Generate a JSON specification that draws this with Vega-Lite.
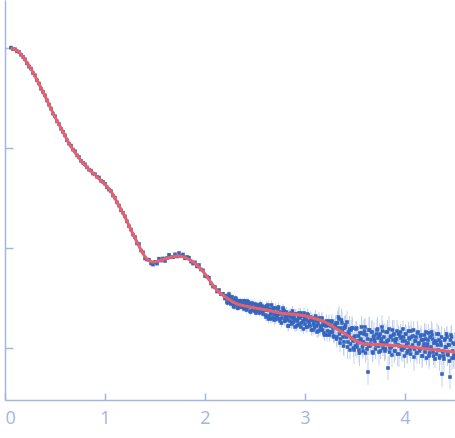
{
"$schema": "https://vega.github.io/schema/vega-lite/v6.json",
"width": 450, "height": 400,
"autosize": {"type": "none"},
"padding": {"left": 5, "top": 0, "right": 0, "bottom": 38},
"background": "white",
"config": {"view": {"stroke": null}},
"datasets": {
"pts": [
{"q":0.06,"y":3.004,"e":0.005},{"q":0.08,"y":2.989,"e":0.005},{"q":0.10,"y":2.988,"e":0.005},{"q":0.12,"y":2.967,"e":0.005},{"q":0.14,"y":2.96,"e":0.005},{"q":0.16,"y":2.932,"e":0.005},{"q":0.18,"y":2.912,"e":0.005},{"q":0.20,"y":2.887,"e":0.005},{"q":0.22,"y":2.846,"e":0.005},{"q":0.24,"y":2.813,"e":0.005},
{"q":0.26,"y":2.794,"e":0.005},{"q":0.28,"y":2.749,"e":0.005},{"q":0.30,"y":2.728,"e":0.005},{"q":0.32,"y":2.677,"e":0.005},{"q":0.34,"y":2.645,"e":0.005},{"q":0.36,"y":2.592,"e":0.005},{"q":0.38,"y":2.562,"e":0.005},{"q":0.40,"y":2.527,"e":0.005},{"q":0.42,"y":2.476,"e":0.005},{"q":0.44,"y":2.433,"e":0.005},
{"q":0.46,"y":2.394,"e":0.005},{"q":0.48,"y":2.344,"e":0.005},{"q":0.50,"y":2.318,"e":0.005},{"q":0.52,"y":2.267,"e":0.005},{"q":0.54,"y":2.24,"e":0.005},{"q":0.56,"y":2.192,"e":0.005},{"q":0.58,"y":2.162,"e":0.005},{"q":0.60,"y":2.127,"e":0.005},{"q":0.62,"y":2.076,"e":0.005},{"q":0.64,"y":2.043,"e":0.005},
{"q":0.66,"y":2.024,"e":0.005},{"q":0.68,"y":1.984,"e":0.005},{"q":0.70,"y":1.968,"e":0.005},{"q":0.72,"y":1.927,"e":0.005},{"q":0.74,"y":1.91,"e":0.005},{"q":0.76,"y":1.872,"e":0.005},{"q":0.78,"y":1.852,"e":0.005},{"q":0.80,"y":1.837,"e":0.005},{"q":0.82,"y":1.806,"e":0.005},{"q":0.84,"y":1.783,"e":0.005},
{"q":0.86,"y":1.774,"e":0.005},{"q":0.88,"y":1.744,"e":0.005},{"q":0.90,"y":1.738,"e":0.005},{"q":0.92,"y":1.712,"e":0.005},{"q":0.94,"y":1.705,"e":0.005},{"q":0.96,"y":1.672,"e":0.005},{"q":0.98,"y":1.662,"e":0.005},{"q":1.00,"y":1.642,"e":0.005},{"q":1.02,"y":1.606,"e":0.005},{"q":1.04,"y":1.583,"e":0.005},
{"q":1.06,"y":1.569,"e":0.005},{"q":1.08,"y":1.524,"e":0.005},{"q":1.10,"y":1.503,"e":0.005},{"q":1.12,"y":1.457,"e":0.005},{"q":1.14,"y":1.425,"e":0.005},{"q":1.16,"y":1.377,"e":0.005},{"q":1.18,"y":1.352,"e":0.005},{"q":1.20,"y":1.317,"e":0.005},{"q":1.22,"y":1.266,"e":0.005},{"q":1.24,"y":1.218,"e":0.005},
{"q":1.26,"y":1.184,"e":0.005},{"q":1.28,"y":1.134,"e":0.005},
{"q":1.30,"y":1.11,"e":0.012},{"q":1.32,"y":1.045,"e":0.012},{"q":1.34,"y":1.04,"e":0.012},{"q":1.36,"y":0.975,"e":0.012},{"q":1.38,"y":0.957,"e":0.012},{"q":1.40,"y":0.895,"e":0.012},{"q":1.42,"y":0.884,"e":0.012},{"q":1.44,"y":0.883,"e":0.012},{"q":1.46,"y":0.845,"e":0.012},{"q":1.48,"y":0.834,"e":0.012},
{"q":1.50,"y":0.862,"e":0.012},{"q":1.52,"y":0.843,"e":0.012},{"q":1.54,"y":0.893,"e":0.012},{"q":1.56,"y":0.874,"e":0.012},{"q":1.58,"y":0.896,"e":0.012},{"q":1.60,"y":0.87,"e":0.012},{"q":1.62,"y":0.90,"e":0.012},{"q":1.64,"y":0.932,"e":0.012},{"q":1.66,"y":0.909,"e":0.012},{"q":1.68,"y":0.908,"e":0.012},
{"q":1.70,"y":0.937,"e":0.012},{"q":1.72,"y":0.915,"e":0.012},{"q":1.74,"y":0.95,"e":0.012},{"q":1.76,"y":0.922,"e":0.012},{"q":1.78,"y":0.935,"e":0.012},{"q":1.80,"y":0.897,"e":0.012},{"q":1.82,"y":0.911,"e":0.012},{"q":1.84,"y":0.903,"e":0.012},{"q":1.86,"y":0.864,"e":0.012},{"q":1.88,"y":0.844,"e":0.012},
{"q":1.90,"y":0.857,"e":0.015},{"q":1.92,"y":0.815,"e":0.015},{"q":1.94,"y":0.83,"e":0.015},{"q":1.96,"y":0.785,"e":0.015},{"q":1.98,"y":0.777,"e":0.015},{"q":2.00,"y":0.72,"e":0.015},{"q":2.02,"y":0.714,"e":0.015},{"q":2.04,"y":0.703,"e":0.015},{"q":2.06,"y":0.645,"e":0.015},{"q":2.08,"y":0.614,"e":0.015},
{"q":2.10,"y":0.61,"e":0.02},{"q":2.12,"y":0.565,"e":0.02},{"q":2.14,"y":0.58,"e":0.02},{"q":2.16,"y":0.538,"e":0.02},{"q":2.18,"y":0.542,"e":0.02},{"q":2.20,"y":0.495,"e":0.02},
{"q":2.21,"y":0.52,"e":0.03},{"q":2.22,"y":0.46,"e":0.03},{"q":2.23,"y":0.52,"e":0.03},{"q":2.24,"y":0.54,"e":0.03},{"q":2.25,"y":0.47,"e":0.03},{"q":2.26,"y":0.44,"e":0.03},{"q":2.27,"y":0.51,"e":0.03},{"q":2.28,"y":0.47,"e":0.03},{"q":2.29,"y":0.41,"e":0.03},{"q":2.30,"y":0.47,"e":0.03},
{"q":2.31,"y":0.49,"e":0.03},{"q":2.32,"y":0.44,"e":0.03},{"q":2.33,"y":0.40,"e":0.03},{"q":2.34,"y":0.46,"e":0.03},{"q":2.35,"y":0.47,"e":0.03},{"q":2.36,"y":0.41,"e":0.03},{"q":2.37,"y":0.43,"e":0.03},{"q":2.38,"y":0.47,"e":0.03},{"q":2.39,"y":0.39,"e":0.03},{"q":2.40,"y":0.44,"e":0.03},
{"q":2.41,"y":0.40,"e":0.035},{"q":2.42,"y":0.47,"e":0.035},{"q":2.43,"y":0.41,"e":0.035},{"q":2.44,"y":0.44,"e":0.035},{"q":2.45,"y":0.37,"e":0.035},{"q":2.46,"y":0.42,"e":0.035},{"q":2.47,"y":0.45,"e":0.035},{"q":2.48,"y":0.38,"e":0.035},{"q":2.49,"y":0.39,"e":0.035},{"q":2.50,"y":0.44,"e":0.035},
{"q":2.51,"y":0.35,"e":0.035},{"q":2.52,"y":0.42,"e":0.035},{"q":2.53,"y":0.40,"e":0.035},{"q":2.54,"y":0.37,"e":0.035},{"q":2.55,"y":0.43,"e":0.035},{"q":2.56,"y":0.38,"e":0.035},{"q":2.57,"y":0.42,"e":0.035},{"q":2.58,"y":0.34,"e":0.035},{"q":2.59,"y":0.40,"e":0.035},{"q":2.60,"y":0.38,"e":0.035},
{"q":2.61,"y":0.31,"e":0.045},{"q":2.62,"y":0.40,"e":0.045},{"q":2.63,"y":0.43,"e":0.045},{"q":2.64,"y":0.32,"e":0.045},{"q":2.65,"y":0.38,"e":0.045},{"q":2.66,"y":0.29,"e":0.045},{"q":2.67,"y":0.36,"e":0.045},{"q":2.68,"y":0.40,"e":0.045},{"q":2.69,"y":0.33,"e":0.045},{"q":2.70,"y":0.29,"e":0.045},
{"q":2.71,"y":0.29,"e":0.045},{"q":2.72,"y":0.32,"e":0.045},{"q":2.73,"y":0.39,"e":0.045},{"q":2.74,"y":0.34,"e":0.045},{"q":2.75,"y":0.27,"e":0.045},{"q":2.76,"y":0.35,"e":0.045},{"q":2.77,"y":0.30,"e":0.045},{"q":2.78,"y":0.40,"e":0.045},{"q":2.79,"y":0.37,"e":0.045},{"q":2.80,"y":0.27,"e":0.045},
{"q":2.81,"y":0.29,"e":0.05},{"q":2.82,"y":0.31,"e":0.05},{"q":2.83,"y":0.22,"e":0.05},{"q":2.84,"y":0.34,"e":0.05},{"q":2.85,"y":0.27,"e":0.05},{"q":2.86,"y":0.35,"e":0.05},{"q":2.87,"y":0.25,"e":0.05},{"q":2.88,"y":0.30,"e":0.05},{"q":2.89,"y":0.32,"e":0.05},{"q":2.90,"y":0.21,"e":0.05},
{"q":2.91,"y":0.34,"e":0.05},{"q":2.92,"y":0.27,"e":0.05},{"q":2.93,"y":0.23,"e":0.05},{"q":2.94,"y":0.35,"e":0.05},{"q":2.95,"y":0.30,"e":0.05},{"q":2.96,"y":0.21,"e":0.05},{"q":2.97,"y":0.32,"e":0.05},{"q":2.98,"y":0.27,"e":0.05},{"q":2.99,"y":0.35,"e":0.05},{"q":3.00,"y":0.24,"e":0.05},
{"q":3.01,"y":0.28,"e":0.055},{"q":3.02,"y":0.21,"e":0.055},{"q":3.03,"y":0.33,"e":0.055},{"q":3.04,"y":0.26,"e":0.055},{"q":3.05,"y":0.22,"e":0.055},{"q":3.06,"y":0.30,"e":0.055},{"q":3.07,"y":0.28,"e":0.055},{"q":3.08,"y":0.18,"e":0.055},{"q":3.09,"y":0.23,"e":0.055},{"q":3.10,"y":0.30,"e":0.055},
{"q":3.11,"y":0.27,"e":0.06},{"q":3.12,"y":0.16,"e":0.06},{"q":3.13,"y":0.24,"e":0.06},{"q":3.14,"y":0.30,"e":0.06},{"q":3.15,"y":0.18,"e":0.06},{"q":3.16,"y":0.20,"e":0.06},{"q":3.17,"y":0.30,"e":0.06},{"q":3.18,"y":0.26,"e":0.06},{"q":3.19,"y":0.15,"e":0.06},{"q":3.20,"y":0.23,"e":0.06},
{"q":3.21,"y":0.22,"e":0.065},{"q":3.22,"y":0.13,"e":0.065},{"q":3.23,"y":0.23,"e":0.065},{"q":3.24,"y":0.27,"e":0.065},{"q":3.25,"y":0.16,"e":0.065},{"q":3.26,"y":0.16,"e":0.065},{"q":3.27,"y":0.27,"e":0.065},{"q":3.28,"y":0.20,"e":0.065},{"q":3.29,"y":0.11,"e":0.065},{"q":3.30,"y":0.21,"e":0.065},
{"q":3.31,"y":0.25,"e":0.08},{"q":3.32,"y":0.11,"e":0.11},{"q":3.33,"y":0.20,"e":0.07},{"q":3.34,"y":0.29,"e":0.13},{"q":3.35,"y":0.05,"e":0.09},{"q":3.36,"y":0.20,"e":0.10},{"q":3.37,"y":0.25,"e":0.12},{"q":3.38,"y":0.11,"e":0.08},{"q":3.39,"y":0.06,"e":0.14},{"q":3.40,"y":0.21,"e":0.09},
{"q":3.41,"y":0.14,"e":0.08},{"q":3.42,"y":0.26,"e":0.11},{"q":3.43,"y":0.06,"e":0.07},{"q":3.44,"y":0.14,"e":0.13},{"q":3.45,"y":-0.02,"e":0.09},{"q":3.46,"y":0.18,"e":0.10},{"q":3.47,"y":0.20,"e":0.12},{"q":3.48,"y":0.07,"e":0.08},{"q":3.49,"y":-0.02,"e":0.14},{"q":3.50,"y":0.12,"e":0.09},
{"q":3.51,"y":0.19,"e":0.08},{"q":3.52,"y":0.01,"e":0.11},{"q":3.53,"y":0.07,"e":0.07},{"q":3.54,"y":-0.02,"e":0.13},{"q":3.55,"y":0.15,"e":0.09},{"q":3.56,"y":0.08,"e":0.10},{"q":3.57,"y":0.15,"e":0.12},{"q":3.58,"y":-0.03,"e":0.08},{"q":3.59,"y":0.14,"e":0.14},{"q":3.60,"y":0.21,"e":0.09},
{"q":3.61,"y":0.04,"e":0.08},{"q":3.62,"y":-0.01,"e":0.11},{"q":3.63,"y":-0.24,"e":0.13},{"q":3.64,"y":0.18,"e":0.13},{"q":3.65,"y":0.02,"e":0.09},{"q":3.66,"y":0.08,"e":0.10},{"q":3.67,"y":0.16,"e":0.12},{"q":3.68,"y":-0.05,"e":0.08},{"q":3.69,"y":0.12,"e":0.14},{"q":3.70,"y":0.05,"e":0.09},
{"q":3.71,"y":0.03,"e":0.08},{"q":3.72,"y":0.18,"e":0.11},{"q":3.73,"y":0.10,"e":0.07},{"q":3.74,"y":-0.04,"e":0.13},{"q":3.75,"y":0.14,"e":0.09},{"q":3.76,"y":0.06,"e":0.10},{"q":3.77,"y":0.21,"e":0.12},{"q":3.78,"y":0.00,"e":0.08},{"q":3.79,"y":0.11,"e":0.14},{"q":3.80,"y":-0.03,"e":0.09},
{"q":3.81,"y":0.16,"e":0.08},{"q":3.82,"y":0.07,"e":0.11},{"q":3.83,"y":-0.20,"e":0.12},{"q":3.84,"y":0.19,"e":0.13},{"q":3.85,"y":0.00,"e":0.09},{"q":3.86,"y":0.12,"e":0.10},{"q":3.87,"y":-0.07,"e":0.12},{"q":3.88,"y":0.08,"e":0.08},{"q":3.89,"y":0.14,"e":0.14},{"q":3.90,"y":-0.03,"e":0.09},
{"q":3.91,"y":0.09,"e":0.08},{"q":3.92,"y":0.17,"e":0.11},{"q":3.93,"y":0.03,"e":0.07},{"q":3.94,"y":-0.06,"e":0.13},{"q":3.95,"y":0.12,"e":0.09},{"q":3.96,"y":0.10,"e":0.10},{"q":3.97,"y":-0.02,"e":0.12},{"q":3.98,"y":0.19,"e":0.08},{"q":3.99,"y":0.00,"e":0.14},{"q":4.00,"y":0.07,"e":0.09},
{"q":4.01,"y":0.14,"e":0.08},{"q":4.02,"y":-0.05,"e":0.11},{"q":4.03,"y":0.05,"e":0.07},{"q":4.04,"y":0.10,"e":0.13},{"q":4.05,"y":-0.02,"e":0.09},{"q":4.06,"y":0.17,"e":0.10},{"q":4.07,"y":0.01,"e":0.12},{"q":4.08,"y":0.12,"e":0.08},{"q":4.09,"y":-0.09,"e":0.14},{"q":4.10,"y":0.07,"e":0.09},
{"q":4.11,"y":0.11,"e":0.08},{"q":4.12,"y":-0.05,"e":0.11},{"q":4.13,"y":0.16,"e":0.07},{"q":4.14,"y":0.05,"e":0.13},{"q":4.15,"y":-0.01,"e":0.09},{"q":4.16,"y":0.13,"e":0.10},{"q":4.17,"y":-0.08,"e":0.12},{"q":4.18,"y":0.08,"e":0.08},{"q":4.19,"y":0.04,"e":0.14},{"q":4.20,"y":-0.04,"e":0.09},
{"q":4.21,"y":0.16,"e":0.08},{"q":4.22,"y":0.01,"e":0.11},{"q":4.23,"y":0.08,"e":0.07},{"q":4.24,"y":-0.08,"e":0.13},{"q":4.25,"y":0.11,"e":0.09},{"q":4.26,"y":0.01,"e":0.10},{"q":4.27,"y":0.13,"e":0.12},{"q":4.28,"y":-0.04,"e":0.08},{"q":4.29,"y":0.05,"e":0.14},{"q":4.30,"y":-0.11,"e":0.09},
{"q":4.31,"y":0.06,"e":0.08},{"q":4.32,"y":0.14,"e":0.11},{"q":4.33,"y":-0.02,"e":0.07},{"q":4.34,"y":0.08,"e":0.13},{"q":4.35,"y":-0.08,"e":0.09},{"q":4.36,"y":0.03,"e":0.10},{"q":4.37,"y":-0.26,"e":0.13},{"q":4.38,"y":-0.04,"e":0.08},{"q":4.39,"y":-0.11,"e":0.14},{"q":4.40,"y":0.09,"e":0.09},
{"q":4.41,"y":0.01,"e":0.08},{"q":4.42,"y":0.11,"e":0.11},{"q":4.43,"y":-0.07,"e":0.07},{"q":4.44,"y":0.03,"e":0.13},{"q":4.45,"y":-0.29,"e":0.12},{"q":4.46,"y":0.13,"e":0.10},{"q":4.47,"y":-0.10,"e":0.12},{"q":4.48,"y":0.05,"e":0.08},{"q":4.49,"y":-0.07,"e":0.14},{"q":4.50,"y":0.04,"e":0.09},
{"q":2.205,"y":0.50,"e":0.03},{"q":2.215,"y":0.52,"e":0.03},{"q":2.225,"y":0.45,"e":0.03},{"q":2.235,"y":0.52,"e":0.03},{"q":2.245,"y":0.48,"e":0.03},{"q":2.255,"y":0.45,"e":0.03},{"q":2.265,"y":0.51,"e":0.03},{"q":2.275,"y":0.47,"e":0.03},{"q":2.285,"y":0.42,"e":0.03},{"q":2.295,"y":0.44,"e":0.03},
{"q":2.305,"y":0.50,"e":0.03},{"q":2.315,"y":0.47,"e":0.03},{"q":2.325,"y":0.40,"e":0.03},{"q":2.335,"y":0.47,"e":0.03},{"q":2.345,"y":0.44,"e":0.03},{"q":2.355,"y":0.47,"e":0.03},{"q":2.365,"y":0.41,"e":0.03},{"q":2.375,"y":0.44,"e":0.03},{"q":2.385,"y":0.41,"e":0.03},{"q":2.395,"y":0.47,"e":0.03},
{"q":2.405,"y":0.44,"e":0.035},{"q":2.415,"y":0.38,"e":0.035},{"q":2.425,"y":0.41,"e":0.035},{"q":2.435,"y":0.46,"e":0.035},{"q":2.445,"y":0.44,"e":0.035},{"q":2.455,"y":0.36,"e":0.035},{"q":2.465,"y":0.42,"e":0.035},{"q":2.475,"y":0.38,"e":0.035},{"q":2.485,"y":0.40,"e":0.035},{"q":2.495,"y":0.37,"e":0.035},
{"q":2.505,"y":0.43,"e":0.035},{"q":2.515,"y":0.38,"e":0.035},{"q":2.525,"y":0.43,"e":0.035},{"q":2.535,"y":0.41,"e":0.035},{"q":2.545,"y":0.35,"e":0.035},{"q":2.555,"y":0.44,"e":0.035},{"q":2.565,"y":0.40,"e":0.035},{"q":2.575,"y":0.36,"e":0.035},{"q":2.585,"y":0.41,"e":0.035},{"q":2.595,"y":0.39,"e":0.035},
{"q":2.605,"y":0.33,"e":0.045},{"q":2.615,"y":0.42,"e":0.045},{"q":2.625,"y":0.38,"e":0.045},{"q":2.635,"y":0.29,"e":0.045},{"q":2.645,"y":0.39,"e":0.045},{"q":2.655,"y":0.34,"e":0.045},{"q":2.665,"y":0.43,"e":0.045},{"q":2.675,"y":0.30,"e":0.045},{"q":2.685,"y":0.37,"e":0.045},{"q":2.695,"y":0.28,"e":0.045},
{"q":2.705,"y":0.40,"e":0.045},{"q":2.715,"y":0.34,"e":0.045},{"q":2.725,"y":0.31,"e":0.045},{"q":2.735,"y":0.41,"e":0.045},{"q":2.745,"y":0.29,"e":0.045},{"q":2.755,"y":0.36,"e":0.045},{"q":2.765,"y":0.25,"e":0.045},{"q":2.775,"y":0.34,"e":0.045},{"q":2.785,"y":0.38,"e":0.045},{"q":2.795,"y":0.27,"e":0.045},
{"q":2.805,"y":0.31,"e":0.05},{"q":2.815,"y":0.36,"e":0.05},{"q":2.825,"y":0.28,"e":0.05},{"q":2.835,"y":0.22,"e":0.05},{"q":2.845,"y":0.33,"e":0.05},{"q":2.855,"y":0.31,"e":0.05},{"q":2.865,"y":0.24,"e":0.05},{"q":2.875,"y":0.37,"e":0.05},{"q":2.885,"y":0.26,"e":0.05},{"q":2.895,"y":0.29,"e":0.05},
{"q":2.905,"y":0.34,"e":0.05},{"q":2.915,"y":0.22,"e":0.05},{"q":2.925,"y":0.28,"e":0.05},{"q":2.935,"y":0.31,"e":0.05},{"q":2.945,"y":0.24,"e":0.05},{"q":2.955,"y":0.35,"e":0.05},{"q":2.965,"y":0.25,"e":0.05},{"q":2.975,"y":0.32,"e":0.05},{"q":2.985,"y":0.19,"e":0.05},{"q":2.995,"y":0.29,"e":0.05},
{"q":3.005,"y":0.31,"e":0.055},{"q":3.015,"y":0.21,"e":0.055},{"q":3.025,"y":0.34,"e":0.055},{"q":3.035,"y":0.27,"e":0.055},{"q":3.045,"y":0.23,"e":0.055},{"q":3.055,"y":0.31,"e":0.055},{"q":3.065,"y":0.18,"e":0.055},{"q":3.075,"y":0.28,"e":0.055},{"q":3.085,"y":0.25,"e":0.055},{"q":3.095,"y":0.20,"e":0.055},
{"q":3.105,"y":0.32,"e":0.06},{"q":3.115,"y":0.22,"e":0.06},{"q":3.125,"y":0.27,"e":0.06},{"q":3.135,"y":0.17,"e":0.06},{"q":3.145,"y":0.28,"e":0.06},{"q":3.155,"y":0.22,"e":0.06},{"q":3.165,"y":0.29,"e":0.06},{"q":3.175,"y":0.18,"e":0.06},{"q":3.185,"y":0.23,"e":0.06},{"q":3.195,"y":0.13,"e":0.06},
{"q":3.205,"y":0.23,"e":0.065},{"q":3.215,"y":0.27,"e":0.065},{"q":3.225,"y":0.17,"e":0.065},{"q":3.235,"y":0.23,"e":0.065},{"q":3.245,"y":0.13,"e":0.065},{"q":3.255,"y":0.22,"e":0.065},{"q":3.265,"y":0.26,"e":0.065},{"q":3.275,"y":0.16,"e":0.065},{"q":3.285,"y":0.12,"e":0.065},{"q":3.295,"y":0.23,"e":0.065},
{"q":3.305,"y":0.22,"e":0.10},{"q":3.315,"y":0.09,"e":0.07},{"q":3.325,"y":0.25,"e":0.12},{"q":3.335,"y":0.31,"e":0.09},{"q":3.345,"y":0.14,"e":0.13},{"q":3.355,"y":0.09,"e":0.08},{"q":3.365,"y":0.28,"e":0.11},{"q":3.375,"y":0.17,"e":0.10},{"q":3.385,"y":0.02,"e":0.09},{"q":3.395,"y":0.20,"e":0.12},
{"q":3.405,"y":0.23,"e":0.10},{"q":3.415,"y":0.11,"e":0.07},{"q":3.425,"y":0.01,"e":0.12},{"q":3.435,"y":0.16,"e":0.09},{"q":3.445,"y":0.19,"e":0.13},{"q":3.455,"y":0.04,"e":0.08},{"q":3.465,"y":0.10,"e":0.11},{"q":3.475,"y":0.20,"e":0.10},{"q":3.485,"y":0.00,"e":0.09},{"q":3.495,"y":0.11,"e":0.12},
{"q":3.505,"y":0.02,"e":0.10},{"q":3.515,"y":0.20,"e":0.07},{"q":3.525,"y":0.05,"e":0.12},{"q":3.535,"y":0.12,"e":0.09},{"q":3.545,"y":-0.05,"e":0.13},{"q":3.555,"y":0.09,"e":0.08},{"q":3.565,"y":0.21,"e":0.11},{"q":3.575,"y":0.01,"e":0.10},{"q":3.585,"y":0.06,"e":0.09},{"q":3.595,"y":0.17,"e":0.12},
{"q":3.605,"y":-0.05,"e":0.10},{"q":3.615,"y":0.13,"e":0.07},{"q":3.625,"y":0.09,"e":0.12},{"q":3.635,"y":0.02,"e":0.09},{"q":3.645,"y":0.18,"e":0.13},{"q":3.655,"y":0.04,"e":0.08},{"q":3.665,"y":0.16,"e":0.11},{"q":3.675,"y":-0.04,"e":0.10},{"q":3.685,"y":0.11,"e":0.09},{"q":3.695,"y":0.08,"e":0.12},
{"q":3.705,"y":-0.01,"e":0.10},{"q":3.715,"y":0.14,"e":0.07},{"q":3.725,"y":0.19,"e":0.12},{"q":3.735,"y":0.02,"e":0.09},{"q":3.745,"y":0.12,"e":0.13},{"q":3.755,"y":-0.03,"e":0.08},{"q":3.765,"y":0.09,"e":0.11},{"q":3.775,"y":0.17,"e":0.10},{"q":3.785,"y":0.05,"e":0.09},{"q":3.795,"y":-0.01,"e":0.12},
{"q":3.805,"y":-0.01,"e":0.10},{"q":3.815,"y":0.04,"e":0.07},{"q":3.825,"y":0.16,"e":0.12},{"q":3.835,"y":0.08,"e":0.09},{"q":3.845,"y":-0.04,"e":0.13},{"q":3.855,"y":0.11,"e":0.08},{"q":3.865,"y":0.01,"e":0.11},{"q":3.875,"y":0.18,"e":0.10},{"q":3.885,"y":0.13,"e":0.09},{"q":3.895,"y":-0.03,"e":0.12},
{"q":3.905,"y":0.06,"e":0.10},{"q":3.915,"y":0.09,"e":0.07},{"q":3.925,"y":-0.06,"e":0.12},{"q":3.935,"y":0.14,"e":0.09},{"q":3.945,"y":0.02,"e":0.13},{"q":3.955,"y":0.16,"e":0.08},{"q":3.965,"y":-0.01,"e":0.11},{"q":3.975,"y":0.07,"e":0.10},{"q":3.985,"y":0.11,"e":0.09},{"q":3.995,"y":-0.08,"e":0.12},
{"q":4.005,"y":0.14,"e":0.10},{"q":4.015,"y":0.03,"e":0.07},{"q":4.025,"y":-0.03,"e":0.12},{"q":4.035,"y":0.17,"e":0.09},{"q":4.045,"y":0.09,"e":0.13},{"q":4.055,"y":-0.06,"e":0.08},{"q":4.065,"y":0.11,"e":0.11},{"q":4.075,"y":0.03,"e":0.10},{"q":4.085,"y":0.18,"e":0.09},{"q":4.095,"y":-0.01,"e":0.12},
{"q":4.105,"y":0.07,"e":0.10},{"q":4.115,"y":-0.05,"e":0.07},{"q":4.125,"y":0.15,"e":0.12},{"q":4.135,"y":0.04,"e":0.09},{"q":4.145,"y":-0.03,"e":0.13},{"q":4.155,"y":0.12,"e":0.08},{"q":4.165,"y":0.08,"e":0.11},{"q":4.175,"y":-0.08,"e":0.10},{"q":4.185,"y":0.01,"e":0.09},{"q":4.195,"y":0.13,"e":0.12},
{"q":4.205,"y":0.09,"e":0.10},{"q":4.215,"y":-0.10,"e":0.07},{"q":4.225,"y":0.04,"e":0.12},{"q":4.235,"y":0.15,"e":0.09},{"q":4.245,"y":-0.05,"e":0.13},{"q":4.255,"y":-0.01,"e":0.08},{"q":4.265,"y":0.16,"e":0.11},{"q":4.275,"y":0.09,"e":0.10},{"q":4.285,"y":-0.08,"e":0.09},{"q":4.295,"y":0.05,"e":0.12},
{"q":4.305,"y":0.07,"e":0.10},{"q":4.315,"y":-0.06,"e":0.07},{"q":4.325,"y":0.03,"e":0.12},{"q":4.335,"y":0.14,"e":0.09},{"q":4.345,"y":-0.10,"e":0.13},{"q":4.355,"y":0.06,"e":0.08},{"q":4.365,"y":0.11,"e":0.11},{"q":4.375,"y":-0.03,"e":0.10},{"q":4.385,"y":-0.08,"e":0.09},{"q":4.395,"y":0.08,"e":0.12},
{"q":4.405,"y":0.01,"e":0.10},{"q":4.415,"y":0.14,"e":0.07},{"q":4.425,"y":-0.06,"e":0.12},{"q":4.435,"y":0.03,"e":0.09},{"q":4.445,"y":-0.13,"e":0.13},{"q":4.455,"y":0.08,"e":0.08},{"q":4.465,"y":0.11,"e":0.11},{"q":4.475,"y":-0.03,"e":0.10},{"q":4.485,"y":-0.10,"e":0.09},{"q":4.495,"y":0.04,"e":0.12}
],
"fit": [
{"q":0.06,"y":3.00},{"q":0.15,"y":2.95},{"q":0.20,"y":2.88},{"q":0.25,"y":2.81},{"q":0.32,"y":2.68},{"q":0.40,"y":2.52},{"q":0.50,"y":2.31},{"q":0.57,"y":2.18},{"q":0.65,"y":2.03},{"q":0.78,"y":1.85},{"q":0.90,"y":1.73},{"q":1.00,"y":1.635},{"q":1.05,"y":1.58},{"q":1.13,"y":1.44},{"q":1.20,"y":1.31},{"q":1.27,"y":1.16},{"q":1.32,"y":1.06},{"q":1.37,"y":0.96},{"q":1.43,"y":0.88},{"q":1.48,"y":0.86},{"q":1.53,"y":0.87},{"q":1.60,"y":0.89},{"q":1.67,"y":0.91},{"q":1.73,"y":0.92},{"q":1.79,"y":0.91},{"q":1.85,"y":0.88},{"q":1.91,"y":0.84},{"q":1.95,"y":0.80},{"q":2.00,"y":0.74},{"q":2.05,"y":0.67},{"q":2.10,"y":0.60},{"q":2.15,"y":0.55},{"q":2.22,"y":0.50},{"q":2.28,"y":0.46},{"q":2.45,"y":0.41},{"q":2.62,"y":0.38},{"q":2.75,"y":0.35},{"q":2.95,"y":0.33},{"q":3.08,"y":0.30},{"q":3.20,"y":0.26},{"q":3.30,"y":0.20},{"q":3.42,"y":0.13},{"q":3.53,"y":0.06},{"q":3.60,"y":0.04},{"q":3.82,"y":0.03},{"q":4.15,"y":0.00},{"q":4.50,"y":-0.042}
]
},
"encoding": {
"x": {"field": "q", "type": "quantitative", "scale": {"domain": [0, 4.5], "nice": false, "zero": false},
 "axis": {"title": null, "values": [0,1,2,3,4], "grid": false, "tickSize": -7, "labelFontSize": 18, "labelFont": "Open Sans", "labelColor": "#a4b6de", "domainColor": "#a4b6de", "tickColor": "#a4b6de", "labelPadding": 16, "domainWidth": 1.5, "tickWidth": 1.5}},
"y": {"field": "y", "type": "quantitative", "scale": {"domain": [-0.52, 3.48], "nice": false, "zero": false},
 "axis": {"title": null, "values": [0,1,2,3], "grid": false, "labels": false, "tickSize": -8, "domainColor": "#a4b6de", "tickColor": "#a4b6de", "domainWidth": 1.5, "tickWidth": 1.5}}
},
"layer": [
{"data": {"name": "pts"}, "mark": {"type": "errorbar", "color": "#c3d1ee", "thickness": 1},
 "encoding": {"x": {"field": "q", "type": "quantitative"}, "y": {"field": "y", "type": "quantitative"}, "yError": {"field": "e"}}},
{"data": {"name": "pts"}, "mark": {"type": "square", "filled": true, "size": 13, "color": "#3566bf", "opacity": 1}},
{"data": {"name": "fit"}, "mark": {"type": "line", "color": "#e9606a", "strokeWidth": 3, "interpolate": "monotone"}}
]
}
